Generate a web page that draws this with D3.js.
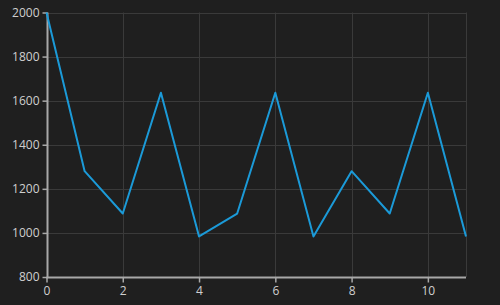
<!DOCTYPE html>
<html>
<head>
<meta charset="utf-8">
<script src="https://cdn.jsdelivr.net/npm/d3@7"></script>
<style>
  html, body { margin: 0; padding: 0; background: #1f1f1f; }
  svg { display: block; }
  text { font-family: "Open Sans", "Noto Sans", sans-serif; }
</style>
</head>
<body>
<svg id="chart"></svg>
<script>
let xs = [0, 1, 2, 3, 4, 5, 6, 7, 8, 9, 10, 11]
let values = [2000, 1280, 1088, 1636, 984, 1088, 1636, 984, 1280, 1088, 1636, 984]
let xTicks = [0, 2, 4, 6, 8, 10]
let yTicks = [800, 1000, 1200, 1400, 1600, 1800, 2000]

let w = 500, h = 305
let m = {t: 12.5, r: 34, b: 28, l: 46.5}

let svg = d3.select('#chart').attr('width', w).attr('height', h)

svg.append('rect').attr('width', w).attr('height', h).attr('fill', '#1f1f1f')

let x = d3.scaleLinear().domain([0, 11]).range([m.l, w - m.r])
let y = d3.scaleLinear().domain([800, 2000]).range([h - m.b, m.t])

// grid
let grid = svg.append('g').attr('stroke', '#3a3a3a').attr('stroke-width', 1)
grid.selectAll('.hg').data(yTicks).join('line')
    .attr('x1', m.l).attr('x2', w - m.r)
    .attr('y1', d => Math.round(y(d)) + 0.5).attr('y2', d => Math.round(y(d)) + 0.5)
grid.selectAll('.vg').data(xTicks.concat([11])).join('line')
    .attr('x1', d => Math.round(x(d)) + 0.5).attr('x2', d => Math.round(x(d)) + 0.5)
    .attr('y1', m.t).attr('y2', h - m.b)

// axes
let xAxis = svg.append('g')
    .attr('transform', `translate(0, ${Math.round(h - m.b) + 0.5})`)
    .call(d3.axisBottom(x).tickValues(xTicks).tickSize(5).tickPadding(4))
let yAxis = svg.append('g')
    .attr('transform', `translate(${Math.round(m.l) + 0.5}, 0)`)
    .call(d3.axisLeft(y).tickValues(yTicks).tickSize(5).tickPadding(3).tickFormat(d3.format('d')))

for (let a of [xAxis, yAxis]) {
    a.select('.domain').attr('stroke', '#a8a8a8').attr('stroke-width', 2)
    a.selectAll('.tick line').attr('stroke', '#a8a8a8').attr('stroke-width', 1.5)
    a.selectAll('.tick text').attr('fill', '#cfcfcf').attr('font-size', 12)
}
xAxis.select('.domain').attr('d', `M${m.l},0H${w - m.r}`)
yAxis.select('.domain').attr('d', `M0,${m.t}V${h - m.b}`)

// line
svg.append('path')
    .datum(values)
    .attr('fill', 'none')
    .attr('stroke', '#1b9ad8')
    .attr('stroke-width', 2)
    .attr('stroke-linejoin', 'round')
    .attr('d', d3.line().x((d, i) => x(xs[i])).y(d => y(d)))
</script>
</body>
</html>
